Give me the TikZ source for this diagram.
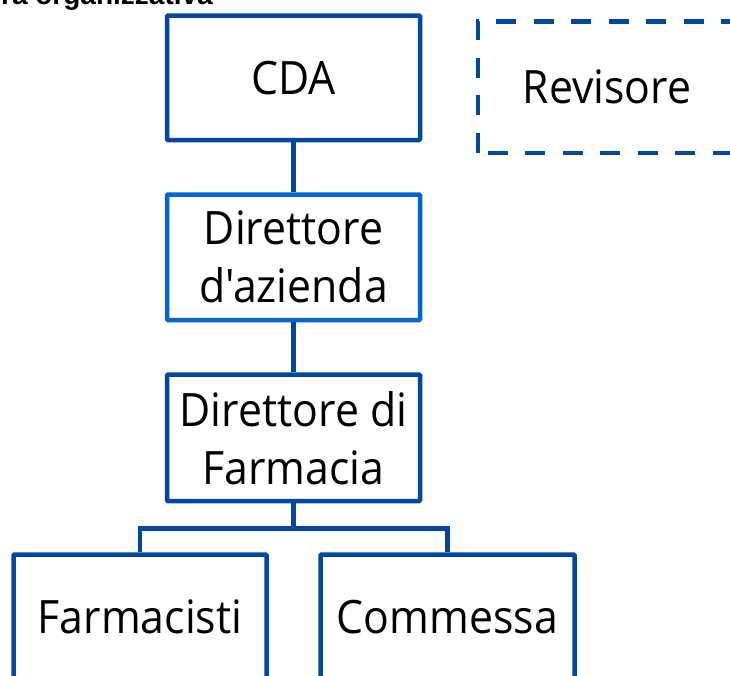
\documentclass[tikz,border=0pt]{standalone}
\usepackage{fontspec}
\newfontfamily\boxfont{Open Sans}[FakeStretch=0.93]
\newfontfamily\titlefont{Liberation Sans}
\definecolor{darkblue}{RGB}{0,71,160}
\definecolor{brightblue}{RGB}{0,99,209}
\tikzset{
  orgbox/.style={draw=darkblue, line width=4.5pt, fill=white, rounded corners=1pt,
    minimum width=253pt, align=center, inner sep=0pt,
    font=\boxfont\fontsize{46}{58}\selectfont, text=black},
  conn/.style={draw=darkblue, line width=4.5pt},
  dashbox/.style={draw=darkblue, line width=4.5pt, dash pattern=on 20pt off 17.5pt}
}
\begin{document}
\begin{tikzpicture}[x=1pt, y=-1pt]
\useasboundingbox (0,0) rectangle (730,675);
\clip (0,0) rectangle (730,675);
\fill[white] (0,0) rectangle (730,675);
% title (cut by the page edge)
\node[anchor=base east, inner sep=0pt, font=\titlefont\bfseries\fontsize{28}{32}\selectfont] (title) at (213,4) {Struttura organizzativa};
% boxes
\node[orgbox, minimum height=124.5pt] (cda) at (293.5,77.75) {CDA};
\node[orgbox, draw=brightblue, minimum height=125.5pt] (daz) at (293.5,257.25) {Direttore\\d'azienda};
\node[orgbox, minimum height=126.5pt] (dfarm) at (293.5,437.75) {Direttore di\\Farmacia};
\node[orgbox, minimum height=125.5pt] (farm) at (140,617.25) {Farmacisti};
\node[orgbox, minimum height=125.5pt, minimum width=254pt] (comm) at (447.5,617.25) {Commessa};
% revisore (dashed)
\node[orgbox, draw=none, fill=none, minimum width=254pt, minimum height=127pt] (rev) at (607,87) {Revisore};
\draw[dashbox] (rev.south west) -- (rev.north west) -- (rev.north east) -- (rev.south east) -- cycle;
% connectors
\draw[conn] (cda.south) -- (daz.north);
\draw[conn] (daz.south) -- (dfarm.north);
\coordinate (bar) at (293.5,528.5);
\draw[conn] (dfarm.south) -- (bar);
\draw[conn] (bar) -| (farm.north);
\draw[conn] (bar) -| (comm.north);
\end{tikzpicture}
\end{document}
